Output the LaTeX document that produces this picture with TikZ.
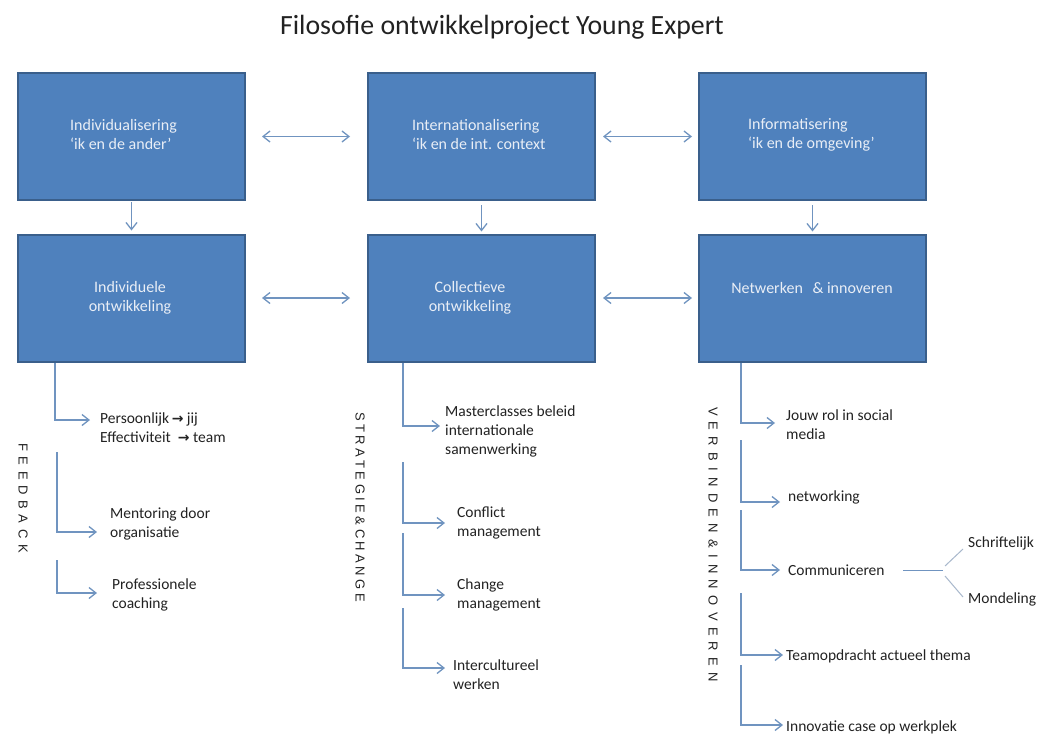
\documentclass[tikz,border=0pt]{standalone}
\usepackage{fontspec}
\setmainfont{Carlito}
\newfontfamily\dejavu{DejaVu Sans}
\newfontfamily\lsans{Liberation Sans}
\usetikzlibrary{arrows.meta}
\definecolor{boxfill}{HTML}{4F81BD}
\definecolor{boxdraw}{HTML}{3A5F8B}
\definecolor{arrowc}{HTML}{7094C0}
\definecolor{boxtext}{HTML}{E9EEF6}
\definecolor{txt}{HTML}{222222}
\definecolor{thinc}{HTML}{A8B8CC}
\begin{document}
\begin{tikzpicture}[x=1pt,y=-1pt,
  bluebox/.style={draw=boxdraw, fill=boxfill, line width=2pt, minimum width=227pt, minimum height=127pt, inner sep=0pt},
  boxlabel/.style={text=boxtext, font=\fontsize{16}{19}\selectfont, inner sep=0pt},
  item/.style={text=txt, font=\fontsize{15.5}{19}\selectfont, align=left, anchor=west, inner sep=0pt},
  conn/.style={draw=arrowc, line width=1.3pt},
  biarrow/.style={conn, {Straight Barb[length=7pt,width=11pt]}-{Straight Barb[length=7pt,width=11pt]}},
  onearrow/.style={conn, -{Straight Barb[length=7pt,width=11pt]}},
  vlabel/.style={text=txt, font=\lsans\fontsize{13}{15}\selectfont, rotate=-90, inner sep=0pt},
  thinline/.style={draw=thinc, line width=1pt},
]
\useasboundingbox[fill=white] (0,0) rectangle (1041,736);

% title
\node[font=\fontsize{27.8}{32}\selectfont, text=txt] (title) at (502,27) {Filosofie ontwikkelproject Young Expert};

% boxes
\node[bluebox] (b1) at (131.5,136.5) {};
\node[bluebox] (b2) at (481.5,136.5) {};
\node[bluebox] (b3) at (812.5,136.5) {};
\node[bluebox] (b4) at (131.5,298) {};
\node[bluebox] (b5) at (481.5,298) {};
\node[bluebox] (b6) at (812.5,298) {};

\node[boxlabel, align=left, anchor=west] (l1) at (70,134.5) {Individualisering\\‘ik en de ander’};
\node[boxlabel, align=left, anchor=west] (l2) at (412,134.5) {Internationalisering\\‘ik en de int. context};
\node[boxlabel, align=left, anchor=west] (l3) at (748,134.5) {Informatisering\\‘ik en de omgeving’};
\node[boxlabel, align=center] (l4) at (130,297.5) {Individuele\\ontwikkeling};
\node[boxlabel, align=center] (l5) at (470,297.5) {Collectieve\\ontwikkeling};
\node[boxlabel] (l6) at (812,288) {Netwerken\hspace{0.6em}\& innoveren};

% horizontal arrows
\draw[biarrow, shorten <=16pt, shorten >=17pt] (b1) -- (b2);
\draw[biarrow, shorten <=7pt, shorten >=6pt] (b2) -- (b3);
\draw[biarrow, shorten <=16pt, shorten >=17pt] (b4) -- (b5);
\draw[biarrow, shorten <=7pt, shorten >=6pt] (b5) -- (b6);

% vertical arrows
\draw[onearrow, shorten <=1pt, shorten >=3pt] (b1) -- (b4);
\draw[onearrow, shorten <=4pt, shorten >=2pt] (b2) -- (b5);
\draw[onearrow, shorten <=4pt, shorten >=2pt] (b3) -- (b6);

% vertical labels
\node[vlabel] (v1) at (23,498) {\makebox[110pt]{F\hfill E\hfill E\hfill D\hfill B\hfill A\hfill C\hfill K}};
\node[vlabel] (v2) at (360,507) {\makebox[190pt]{S\hfill T\hfill R\hfill A\hfill T\hfill E\hfill G\hfill I\hfill E\hfill \&\hfill C\hfill H\hfill A\hfill N\hfill G\hfill E}};
\node[vlabel] (v3) at (713,544.5) {\makebox[275pt]{V\hfill E\hfill R\hfill B\hfill I\hfill N\hfill D\hfill E\hfill N\hfill \&\hfill I\hfill N\hfill N\hfill O\hfill V\hfill E\hfill R\hfill E\hfill N}};

% left column items
\node[item] (f1) at (100,427.5) {Persoonlijk\,{\dejavu\bfseries\fontsize{14}{19}\selectfont →} jij\\Effectiviteit\ \ {\dejavu\bfseries\fontsize{14}{19}\selectfont →} team};
\node[item] (f2) at (110,524) {Mentoring door\\organisatie};
\node[item] (f3) at (112,594.5) {Professionele\\coaching};
\coordinate (f1s) at (55,363); \coordinate (f1e) at (90,420);
\coordinate (f2s) at (57,452); \coordinate (f2e) at (97,532);
\coordinate (f3s) at (57,560); \coordinate (f3e) at (97,593);
\draw[onearrow] (f1s) |- (f1e);
\draw[onearrow] (f2s) |- (f2e);
\draw[onearrow] (f3s) |- (f3e);

% middle column items
\node[item] (m1) at (445,431) {Masterclasses beleid\\internationale\\samenwerking};
\node[item] (m2) at (457,522.5) {Conflict\\management};
\node[item] (m3) at (457,594.5) {Change\\management};
\node[item] (m4) at (453,675) {Intercultureel\\werken};
\coordinate (m1s) at (403,363); \coordinate (m1e) at (440,426);
\coordinate (m2s) at (403,462); \coordinate (m2e) at (445,523);
\coordinate (m3s) at (403,533); \coordinate (m3e) at (445,595);
\coordinate (m4s) at (403,608); \coordinate (m4e) at (445,668);
\draw[onearrow] (m1s) |- (m1e);
\draw[onearrow] (m2s) |- (m2e);
\draw[onearrow] (m3s) |- (m3e);
\draw[onearrow] (m4s) |- (m4e);

% right column items
\node[item] (r1) at (786,424.5) {Jouw rol in social\\media};
\node[item] (r2) at (788,497) {networking};
\node[item] (r3) at (788,570) {Communiceren};
\node[item] (r4) at (786,656) {Teamopdracht actueel thema};
\node[item] (r5) at (786,727) {Innovatie case op werkplek};
\node[item] (r6) at (968,543) {Schriftelijk};
\node[item] (r7) at (968,599) {Mondeling};
\coordinate (r1s) at (741,363); \coordinate (r1e) at (775,423);
\coordinate (r2s) at (741,440); \coordinate (r2e) at (780,502);
\coordinate (r3s) at (741,510); \coordinate (r3e) at (780,570);
\coordinate (r4s) at (741,593); \coordinate (r4e) at (783,655);
\coordinate (r5s) at (741,665); \coordinate (r5e) at (783,725);
\draw[onearrow] (r1s) |- (r1e);
\draw[onearrow] (r2s) |- (r2e);
\draw[onearrow] (r3s) |- (r3e);
\draw[onearrow] (r4s) |- (r4e);
\draw[onearrow] (r5s) |- (r5e);

% communiceren split
\coordinate (cs) at (903,570); \coordinate (ce) at (943,570);
\coordinate (ua) at (945,566); \coordinate (ub) at (963,549);
\coordinate (la) at (945,576); \coordinate (lb) at (963,597);
\draw[conn, line width=1pt] (cs) -- (ce);
\draw[thinline] (ua) -- (ub);
\draw[thinline] (la) -- (lb);
\end{tikzpicture}
\end{document}
